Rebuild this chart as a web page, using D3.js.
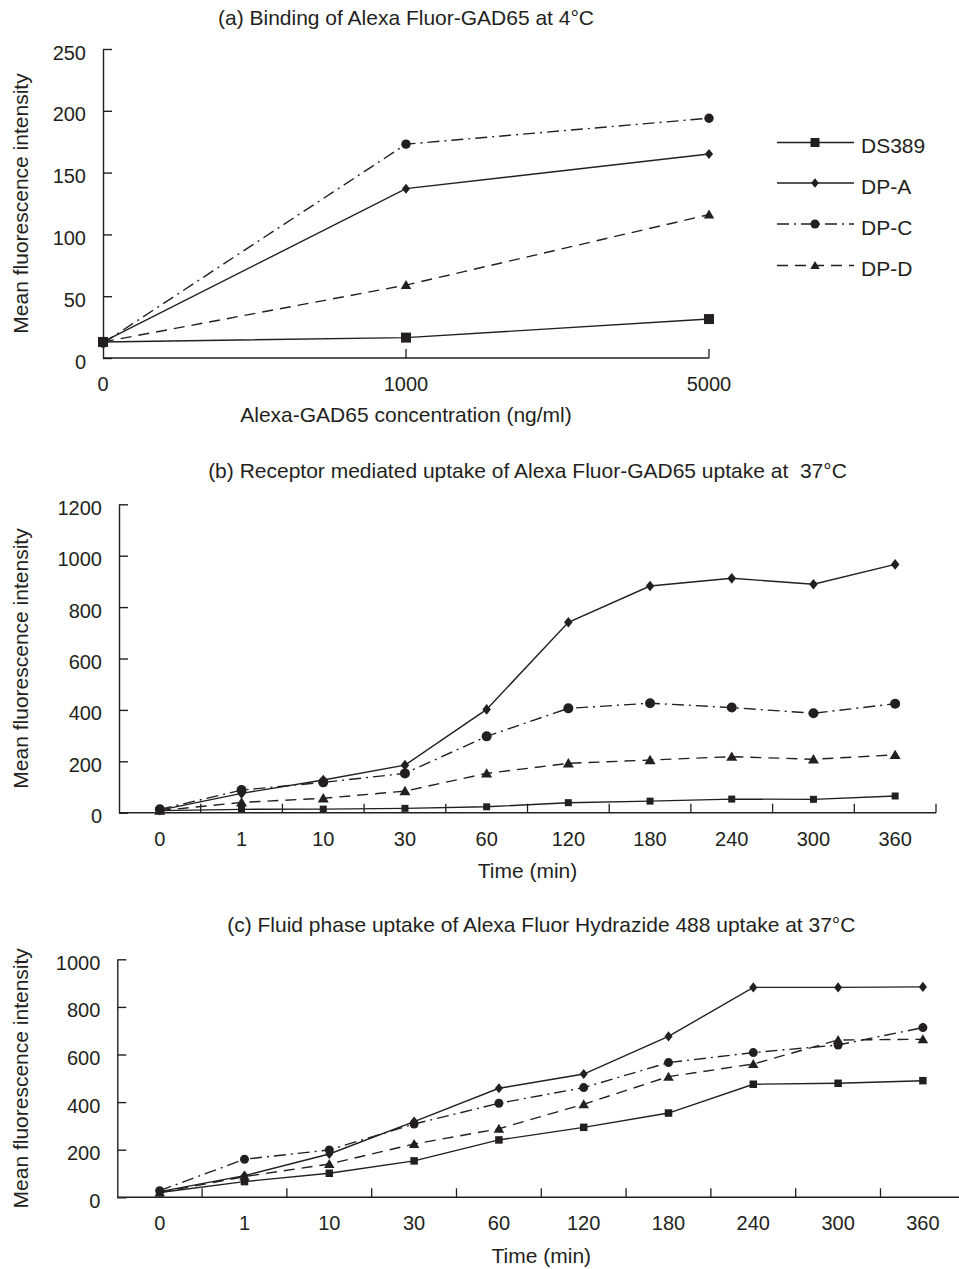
<!DOCTYPE html>
<html>
<head>
<meta charset="utf-8">
<script src="https://cdn.jsdelivr.net/npm/d3@7"></script>
<style>
  html, body { margin: 0; padding: 0; background: #fff; }
  svg { display: block; }
  text { font-family: "Liberation Sans", Arial, Helvetica, sans-serif; fill: #231f20; white-space: pre; }
</style>
</head>
<body>
<svg id="chart" width="959" height="1269"></svg>
<script>
// ---------------- DATA ----------------
const seriesNames = ["DS389", "DP-A", "DP-C", "DP-D"];

// (a) binding at 4°C
const concCategories = ["0", "1000", "5000"];
const bindDS389 = [13, 16.5, 31.5];
const bindDPA   = [13, 137, 165];
const bindDPC   = [12, 173, 194];
const bindDPD   = [13, 59, 116];
const bindTicks = [0, 50, 100, 150, 200, 250];

// (b) receptor mediated uptake at 37°C
const timeCategories = ["0", "1", "10", "30", "60", "120", "180", "240", "300", "360"];
const recDS389 = [8, 13, 14, 17, 23, 39, 45, 53, 52, 65];
const recDPA   = [10, 75, 127, 185, 402, 741, 882, 912, 889, 966];
const recDPC   = [13, 88, 118, 153, 297, 406, 426, 409, 387, 424];
const recDPD   = [8, 40, 56, 84, 153, 192, 205, 218, 208, 225];
const recTicks = [0, 200, 400, 600, 800, 1000, 1200];

// (c) fluid phase uptake at 37°C
const fluDS389 = [20, 66, 101, 153, 241, 294, 354, 475, 479, 490];
const fluDPA   = [24, 91, 182, 318, 458, 518, 676, 882, 882, 884];
const fluDPC   = [28, 160, 199, 308, 395, 461, 566, 608, 640, 713];
const fluDPD   = [20, 87, 140, 224, 288, 391, 507, 560, 661, 664];
const fluTicks = [0, 200, 400, 600, 800, 1000];

const titles = [
  "(a) Binding of Alexa Fluor-GAD65 at 4\u00B0C",
  "(b) Receptor mediated uptake of Alexa Fluor-GAD65 uptake at  37\u00B0C",
  "(c) Fluid phase uptake of Alexa Fluor Hydrazide 488 uptake at 37\u00B0C"
];
const xTitles = ["Alexa-GAD65 concentration (ng/ml)", "Time (min)", "Time (min)"];
const yTitle = "Mean fluorescence intensity";

// ---------------- STYLE ----------------
const INK = "#231f20";
const styles = {
  "DS389": { marker: "square",   dash: null },
  "DP-A":  { marker: "diamond",  dash: null },
  "DP-C":  { marker: "circle",   dash: "12,5,2,5" },
  "DP-D":  { marker: "triangle", dash: "11,7" }
};

const svg = d3.select("#chart");

function markerPath(type, s) {
  const h = s / 2;
  switch (type) {
    case "square":   return `M${-h},${-h}H${h}V${h}H${-h}Z`;
    case "diamond":  return `M0,${-h * 1.12}L${h * 0.9},0L0,${h * 1.12}L${-h * 0.9},0Z`;
    case "triangle": return `M0,${-h}L${h * 1.05},${h * 0.8}L${-h * 1.05},${h * 0.8}Z`;
    case "circle":   return d3.arc()({innerRadius: 0, outerRadius: h, startAngle: 0, endAngle: 2 * Math.PI});
  }
}

function drawPanel(cfg) {
  const g = svg.append("g");
  const y = d3.scaleLinear().domain([0, cfg.yMax]).range([cfg.bottom, cfg.top]);
  let x, xPos, boundaries = [];
  if (cfg.kind === "point") {
    x = d3.scalePoint().domain(cfg.categories).range([cfg.left, cfg.right]).padding(0);
    xPos = c => x(c);
    boundaries = cfg.categories.slice(1).map(c => x(c));
  } else {
    x = d3.scaleBand().domain(cfg.categories).range([cfg.left, cfg.right]).paddingInner(0).paddingOuter(0);
    xPos = c => x(c) + x.bandwidth() / 2;
    boundaries = cfg.categories.slice(1).map(c => x(c)).concat([cfg.right]);
  }

  // Y axis (inward ticks)
  const yAxis = d3.axisLeft(y).tickValues(cfg.yTicks).tickFormat(d3.format("d"))
    .tickSizeInner(-9).tickSizeOuter(0).tickPadding(17);
  const ya = g.append("g").attr("transform", `translate(${cfg.left},0)`).call(yAxis);
  ya.select(".domain").attr("stroke", INK).attr("stroke-width", 1.4);
  ya.selectAll(".tick line").attr("stroke", INK).attr("stroke-width", 1.4);
  ya.selectAll(".tick text").attr("font-size", 20).attr("dy", "0.5em").attr("fill", INK)
    .style("font-family", '"Liberation Sans", Arial, sans-serif');

  // X axis line
  g.append("line").attr("x1", cfg.left).attr("x2", cfg.right)
    .attr("y1", cfg.bottom).attr("y2", cfg.bottom)
    .attr("stroke", INK).attr("stroke-width", 1.4);
  // X ticks (upward)
  g.selectAll(".xt").data(boundaries).join("line")
    .attr("x1", d => d).attr("x2", d => d)
    .attr("y1", cfg.bottom).attr("y2", cfg.bottom - 9)
    .attr("stroke", INK).attr("stroke-width", 1.3);
  // X labels
  g.selectAll(".xl").data(cfg.categories).join("text")
    .attr("x", d => xPos(d)).attr("y", cfg.bottom + 33)
    .attr("text-anchor", "middle").attr("font-size", 20).text(d => d);

  // Titles
  g.append("text").attr("x", (cfg.left + cfg.right) / 2).attr("y", cfg.titleY)
    .attr("text-anchor", "middle").attr("font-size", 21).text(cfg.title);
  g.append("text").attr("x", (cfg.left + cfg.right) / 2).attr("y", cfg.xTitleY)
    .attr("text-anchor", "middle").attr("font-size", 21).text(cfg.xTitle);
  g.append("text")
    .attr("transform", `translate(28,${(cfg.top + cfg.bottom) / 2}) rotate(-90)`)
    .attr("text-anchor", "middle").attr("font-size", 21).text(yTitle);

  // Series
  const line = d3.line().x(d => xPos(d.c)).y(d => y(d.v));
  cfg.series.forEach((vals, i) => {
    const name = seriesNames[i];
    const st = styles[name];
    const pts = cfg.categories.map((c, j) => ({c, v: vals[j]}));
    g.append("path").datum(pts).attr("d", line)
      .attr("fill", "none").attr("stroke", INK).attr("stroke-width", 1.4)
      .attr("stroke-dasharray", st.dash);
    g.selectAll(null).data(pts).join("path")
      .attr("transform", d => `translate(${xPos(d.c)},${y(d.v)})`)
      .attr("d", markerPath(st.marker, cfg.msize[st.marker]))
      .attr("fill", INK);
  });
}

drawPanel({
  kind: "point", categories: concCategories, yMax: 250, yTicks: bindTicks,
  left: 103, right: 709, top: 49, bottom: 358,
  titleY: 25, xTitleY: 422, title: titles[0], xTitle: xTitles[0],
  series: [bindDS389, bindDPA, bindDPC, bindDPD],
  msize: {square: 10, diamond: 9, circle: 9.4, triangle: 10}
});

drawPanel({
  kind: "band", categories: timeCategories, yMax: 1200, yTicks: recTicks,
  left: 119, right: 936, top: 504.3, bottom: 812.7,
  titleY: 478, xTitleY: 878, title: titles[1], xTitle: xTitles[1],
  series: [recDS389, recDPA, recDPC, recDPD],
  msize: {square: 7, diamond: 9.5, circle: 10, triangle: 10.5}
});

drawPanel({
  kind: "band", categories: timeCategories, yMax: 1000, yTicks: fluTicks,
  left: 117.3, right: 965.3, top: 959.3, bottom: 1197.3,
  titleY: 931.5, xTitleY: 1263, title: titles[2], xTitle: xTitles[2],
  series: [fluDS389, fluDPA, fluDPC, fluDPD],
  msize: {square: 7.5, diamond: 9, circle: 9, triangle: 10}
});

// ---------------- LEGEND ----------------
const legendY = [142.5, 183, 224, 265.5];
const leg = svg.append("g");
seriesNames.forEach((name, i) => {
  const st = styles[name];
  const yy = legendY[i];
  leg.append("line").attr("x1", 777).attr("x2", 854).attr("y1", yy).attr("y2", yy)
    .attr("stroke", INK).attr("stroke-width", 1.4).attr("stroke-dasharray", st.dash);
  const ms = {square: 9, diamond: 8.5, circle: 9, triangle: 9}[st.marker];
  leg.append("path").attr("transform", `translate(815,${yy})`)
    .attr("d", markerPath(st.marker, ms)).attr("fill", INK);
  leg.append("text").attr("x", 861).attr("y", yy + 10.5).attr("font-size", 21).text(name);
});
</script>
</body>
</html>
